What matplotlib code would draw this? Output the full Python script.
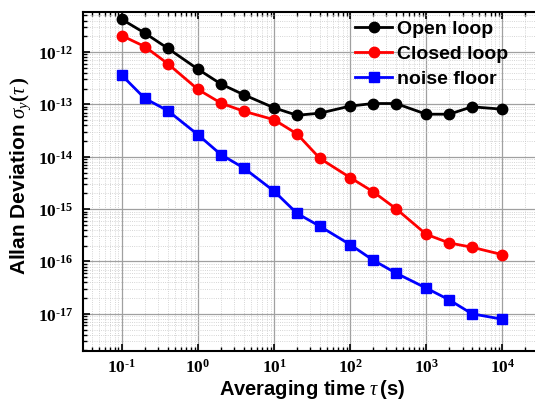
import numpy as np
import matplotlib
matplotlib.use("Agg")
import matplotlib.pyplot as plt
from matplotlib.ticker import LogLocator, NullFormatter, FuncFormatter, FixedLocator

plt.rcParams['mathtext.fontset'] = 'custom'
plt.rcParams['mathtext.rm'] = 'Liberation Serif:bold'
plt.rcParams['mathtext.bf'] = 'Liberation Serif:bold'
plt.rcParams['mathtext.it'] = 'Liberation Serif:italic'
plt.rcParams['font.family'] = ['Liberation Sans', 'DejaVu Sans']

tau = [0.1, 0.2, 0.4, 1, 2, 4, 10, 20, 40, 100, 200, 400, 1000, 2000, 4000, 10000]
open_loop = [4.2e-12, 2.3e-12, 1.18e-12, 4.7e-13, 2.45e-13, 1.53e-13, 8.6e-14, 6.2e-14,
             6.8e-14, 9.3e-14, 1.04e-13, 1.04e-13, 6.5e-14, 6.5e-14, 9.0e-14, 8.1e-14]
closed_loop = [2.05e-12, 1.27e-12, 6.0e-13, 1.93e-13, 1.06e-13, 7.4e-14, 5.1e-14, 2.73e-14,
               9.3e-15, 4.0e-15, 2.15e-15, 1.02e-15, 3.3e-16, 2.26e-16, 1.87e-16, 1.35e-16]
noise_floor = [3.58e-13, 1.3e-13, 7.6e-14, 2.63e-14, 1.1e-14, 6.1e-15, 2.2e-15, 8.3e-16,
               4.7e-16, 2.1e-16, 1.06e-16, 6.0e-17, 3.1e-17, 1.85e-17, 1.0e-17, 7.9e-18]
x_decades = [0.1, 1, 10, 100, 1000, 10000]
y_decades = [1e-17, 1e-16, 1e-15, 1e-14, 1e-13, 1e-12]

fig = plt.figure(figsize=(5.35, 4.0), dpi=100)
ax = fig.add_axes([0.155, 0.1225, 0.855, 0.8475])

ax.plot(tau, open_loop, '-o', color='black', lw=2, ms=7.5, label='Open loop', zorder=5)
ax.plot(tau, closed_loop, '-o', color='red', lw=2, ms=7.5, label='Closed loop', zorder=5)
ax.plot(tau, noise_floor, '-s', color='blue', lw=2, ms=6.5, label='noise floor', zorder=5)

ax.set_xscale('log')
ax.set_yscale('log')
ax.set_xlim(10**-1.513, 10**4.5)
ax.set_ylim(10**-17.71, 10**-11.235)


def pow10(v, pos):
    e = int(round(np.log10(v)))
    sign = '\u2010' if e < 0 else ''
    return r'$\mathrm{10^{%s%d}}$' % (sign, abs(e))


ax.xaxis.set_major_locator(FixedLocator(x_decades))
ax.yaxis.set_major_locator(FixedLocator(y_decades))
ax.xaxis.set_major_formatter(FuncFormatter(pow10))
ax.yaxis.set_major_formatter(FuncFormatter(pow10))
ax.xaxis.set_minor_locator(LogLocator(base=10, subs=np.arange(2, 10), numticks=50))
ax.yaxis.set_minor_locator(LogLocator(base=10, subs=np.arange(2, 10), numticks=50))
ax.xaxis.set_minor_formatter(NullFormatter())
ax.yaxis.set_minor_formatter(NullFormatter())

ax.grid(True, which='major', color='#a0a0a0', lw=0.9, ls='-')
ax.grid(True, which='minor', color='#c8c8c8', lw=0.6, ls=':')
ax.set_axisbelow(True)

ax.tick_params(which='both', direction='in', top=True, right=False, labelsize=12.5)
ax.tick_params(which='major', length=5, width=1.2, pad=7)
ax.tick_params(axis='x', which='major', pad=5)
ax.tick_params(which='minor', length=3, width=1)
for s in ax.spines.values():
    s.set_linewidth(1.5)

ax.set_xlabel(r'Averaging time $\tau\,$(s)', fontsize=14.5, fontweight='bold')
ax.set_ylabel(r'Allan Deviation $\sigma_y(\tau\,)$', fontsize=15, fontweight='bold')
ax.xaxis.set_label_coords(0.5, -0.08)
ax.yaxis.set_label_coords(-0.11, 0.518)

leg = ax.legend(loc='upper left', bbox_to_anchor=(0.595, 0.975), frameon=False,
                prop={'weight': 'bold', 'size': 14}, handlelength=1.9,
                handletextpad=0.25, labelspacing=0.38, borderaxespad=0.0, borderpad=0.0)

fig.savefig('out.png', dpi=100)
